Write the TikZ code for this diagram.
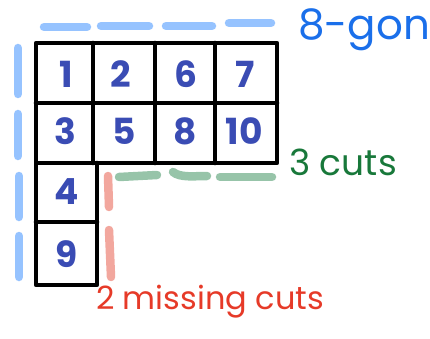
\documentclass[tikz,border=0pt]{standalone}
\usepackage{fontspec}
\setmainfont{Poppins}
\definecolor{dashblue}{HTML}{96C3FF}
\definecolor{dashgreen}{HTML}{97C4A9}
\definecolor{dashred}{HTML}{F2A79E}
\definecolor{txtblue}{HTML}{1A6FEA}
\definecolor{txtgreen}{HTML}{18783A}
\definecolor{txtred}{HTML}{E63A28}
\definecolor{numblue}{HTML}{3A4CB4}
\begin{document}
\begin{tikzpicture}[x=1pt,y=-1pt,
  gridline/.style={line width=4.6pt,line cap=round,line join=round,black},
  dashbar/.style={line width=8.5pt,line cap=round},
  num/.style={text=numblue,font=\fontsize{36}{36}\selectfont\bfseries,inner sep=0pt},
  lbl/.style={inner sep=0pt,anchor=center}]
\useasboundingbox (0,0) rectangle (430,339);
% grid cells
\draw[gridline] (36,43) rectangle (277,163);
\draw[gridline] (36,103) -- (277,103);
\draw[gridline] (93,43) -- (93,163);
\draw[gridline] (155,43) -- (155,163);
\draw[gridline] (215,43) -- (215,163);
\draw[gridline] (36,163) -- (36,285) -- (97,285) -- (97,163);
\draw[gridline] (36,222) -- (97,222);
% numbers
\node[num] (n1) at (66,74) {1};
\node[num] (n2) at (121,74) {2};
\node[num] (n6) at (186,74) {6};
\node[num] (n7) at (245,74) {7};
\node[num] (n3) at (65,131) {3};
\node[num] (n5) at (124,131) {5};
\node[num] (n8) at (185,131) {8};
\node[num] (n10) at (244,131) {10};
\node[num] (n4) at (67,192) {4};
\node[num] (n9) at (67,254) {9};
% blue dashes (8-gon)
\draw[dashbar,dashblue] (44,27) -- (87,27);
\draw[dashbar,dashblue] (101,26) -- (149,26);
\draw[dashbar,dashblue] (166,26) -- (212,26);
\draw[dashbar,dashblue] (229,23) -- (271,23);
\draw[dashbar,dashblue] (18,48) -- (18,94);
\draw[dashbar,dashblue] (18,114) -- (18,156);
\draw[dashbar,dashblue] (19,176) -- (19,217);
\draw[dashbar,dashblue] (19,236) -- (19,277);
% green dashes
\draw[dashbar,dashgreen] (119,177) -- (157,175);
\draw[dashbar,dashgreen] (173,172) .. controls (180,178) and (195,176) .. (207,176);
\draw[dashbar,dashgreen] (220,177) -- (272,177);
% red dashes
\draw[dashbar,dashred] (108,176) -- (109,207);
\draw[dashbar,dashred] (109,230) -- (111,277);
% labels
\node[lbl,text=txtblue,font=\fontsize{42}{42}\selectfont] (gon) at (364,30) {8-gon};
\node[lbl,text=txtgreen,font=\fontsize{36}{36}\selectfont] (cuts3) at (343,162) {3 cuts};
\node[lbl,text=txtred,font=\fontsize{32}{32}\selectfont] (cuts2) at (210,302) {2 missing cuts};
\end{tikzpicture}
\end{document}
